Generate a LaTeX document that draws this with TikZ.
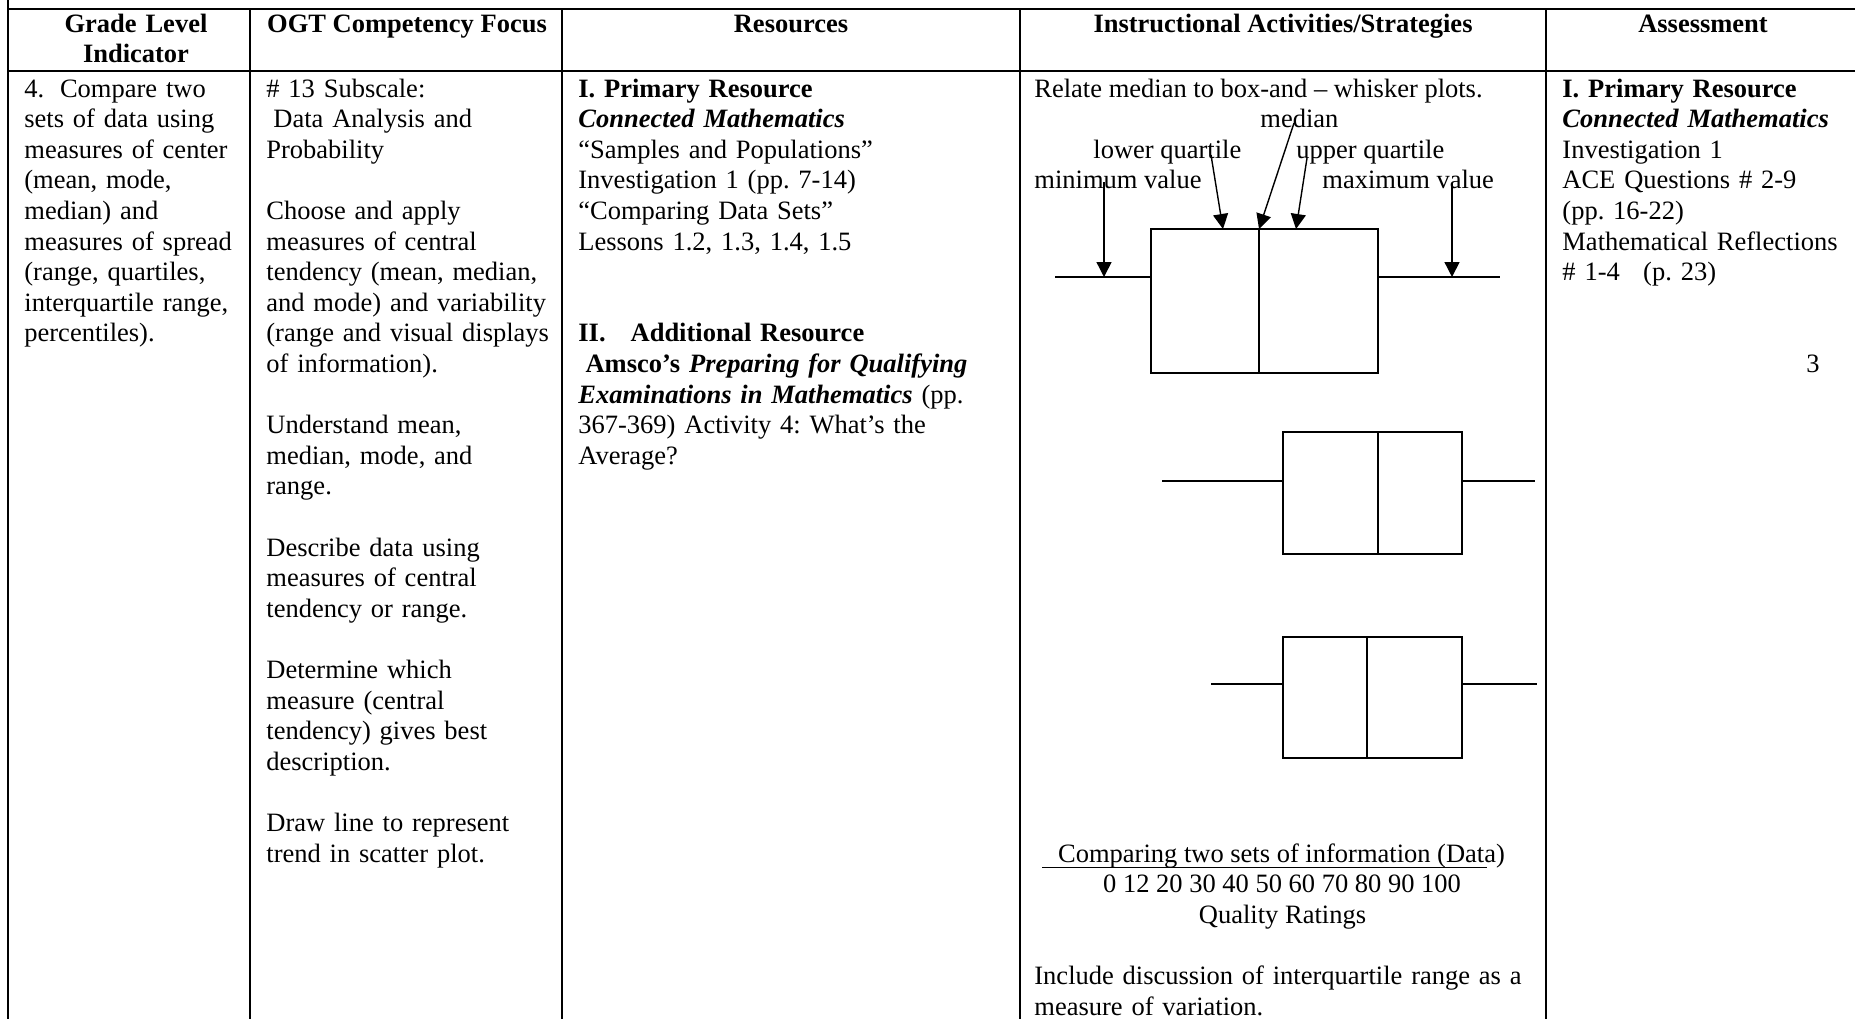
\documentclass[tikz,border=0pt]{standalone}
\usepackage{fontspec}
\setmainfont{Liberation Serif}
\usetikzlibrary{arrows.meta}
\frenchspacing

\tikzset{
  cell/.style={anchor=base west, inner sep=0pt, align=left,
    font=\fontsize{13.25}{15.3}\selectfont},
  head/.style={anchor=base, inner sep=0pt, align=center,
    font=\fontsize{13.25}{15.3}\selectfont\bfseries},
  rule/.style={line width=1pt},
  bw/.style={line width=0.7pt},
  pointer/.style={line width=0.7pt, -{Triangle[length=7.5pt,width=7.5pt]}}
}

\begin{document}
\begin{tikzpicture}[x=0.5pt,y=-0.5pt]
    \useasboundingbox (0,0) rectangle (1855,1019);

    % table rules
    \draw[rule] (8,0) -- (8,1019);
    \draw[rule] (8,9) -- (1855,9);
    \draw[rule] (8,71) -- (1855,71);
    \foreach \x in {250,562,1020,1546}
        \draw[rule] (\x,9) -- (\x,1019);

    % header row
    \node[head, text width=100pt] (hGrade) at (136,32) {Grade Level\\Indicator};
    \node[head] (hOgt) at (407,32) {OGT Competency Focus};
    \node[head] (hRes) at (791,32) {Resources};
    \node[head] (hAct) at (1283,32) {Instructional Activities/Strategies};
    \node[head] (hAss) at (1703,32) {Assessment};

    % body cells
    \node[cell, text width=115pt] (indicator) at (24,97) {4.\hspace{7.9pt}Compare two\\
        sets of data using\\
        measures of center\\
        (mean, mode,\\
        median) and\\
        measures of spread\\
        (range, quartiles,\\
        interquartile range,\\
        percentiles).};

    \node[cell, text width=150pt] (focus) at (266,97) {\# 13 Subscale:\\
        \hspace*{3.5pt}Data Analysis and\\
        Probability\\[15.3pt]
        Choose and apply\\
        measures of central\\
        tendency (mean, median,\\
        and mode) and variability\\
        (range and visual displays\\
        of information).\\[15.3pt]
        Understand mean,\\
        median, mode, and\\
        range.\\[15.3pt]
        Describe data using\\
        measures of central\\
        tendency or range.\\[15.3pt]
        Determine which\\
        measure (central\\
        tendency) gives best\\
        description.\\[15.3pt]
        Draw line to represent\\
        trend in scatter plot.};

    \node[cell, text width=220pt] (resources) at (578,97) {\textbf{I. Primary Resource}\\
        \textbf{\textit{Connected Mathematics}}\\
        “Samples and Populations”\\
        Investigation 1 (pp. 7-14)\\
        “Comparing Data Sets”\\
        Lessons 1.2, 1.3, 1.4, 1.5\\[30.6pt]
        \textbf{II.\hspace{12.5pt}Additional Resource}\\
        \hspace*{3.6pt}\textbf{Amsco’s \textit{Preparing for Qualifying}}\\
        \textbf{\textit{Examinations in Mathematics}} (pp.\\
        367-369) Activity 4: What’s the\\
        Average?};

    \node[cell, text width=145pt] (assess) at (1562,97) {\textbf{I. Primary Resource}\\
        \textbf{\textit{Connected Mathematics}}\\
        Investigation 1\\
        ACE Questions \# 2-9\\
        (pp. 16-22)\\
        Mathematical Reflections\\
        \# 1-4\hspace{11.7pt}(p. 23)};
    \node[cell, anchor=base east] (pageNo) at (1820,372) {3};

    % activities column
    \node[cell] (relate) at (1034,97) {Relate median to box-and – whisker plots.};
    \node[cell] (lblMed) at (1260,127.6) {median};
    \node[cell] (lblLq) at (1093,158.2) {lower quartile};
    \node[cell] (lblUq) at (1296,158.2) {upper quartile};
    \node[cell] (lblMin) at (1034,188.8) {minimum value};
    \node[cell] (lblMax) at (1322,188.8) {maximum value};

    % box-and-whisker plots
    \foreach \lo/\qa/\md/\qb/\hi/\yt/\yb/\yw in
        {1055/1151/1259/1378/1500/229/373/277,
         1162/1283/1378/1462/1535/432/554/481,
         1211/1283/1367/1462/1537/637/758/684} {
        \draw[bw] (\qa,\yt) rectangle (\qb,\yb);
        \draw[bw] (\md,\yt) -- (\md,\yb);
        \draw[bw] (\lo,\yw) -- (\qa,\yw);
        \draw[bw] (\qb,\yw) -- (\hi,\yw);
    }

    \coordinate (minTail) at (1104,182);
    \coordinate (minHead) at (1104,277);
    \coordinate (lqTail) at (1211,155);
    \coordinate (lqHead) at (1223,229);
    \coordinate (medTail) at (1294,123);
    \coordinate (medHead) at (1259,229);
    \coordinate (uqTail) at (1307,158);
    \coordinate (uqHead) at (1296,229);
    \coordinate (maxTail) at (1452,183);
    \coordinate (maxHead) at (1452,277);
    \draw[pointer] (minTail) -- (minHead);
    \draw[pointer] (lqTail) -- (lqHead);
    \draw[pointer] (medTail) -- (medHead);
    \draw[pointer] (uqTail) -- (uqHead);
    \draw[pointer] (maxTail) -- (maxHead);

    \node[cell, anchor=base, align=center] (cmpTitle) at (1281.5,862) {Comparing two sets of information (Data)};
    \coordinate (axisL) at (1042,867.7);
    \coordinate (axisR) at (1487,867.7);
    \draw[line width=0.6pt] (axisL) -- (axisR);
    \node[cell, anchor=base, align=center] (scale) at (1282,892.6) {0 12 20 30 40 50 60 70 80 90 100};
    \node[cell, anchor=base, align=center] (quality) at (1282.5,923.2) {Quality Ratings};
    \node[cell, text width=255pt] (discuss) at (1034,984.4) {Include discussion of interquartile range as a\\
        measure of variation.};
\end{tikzpicture}
\end{document}
